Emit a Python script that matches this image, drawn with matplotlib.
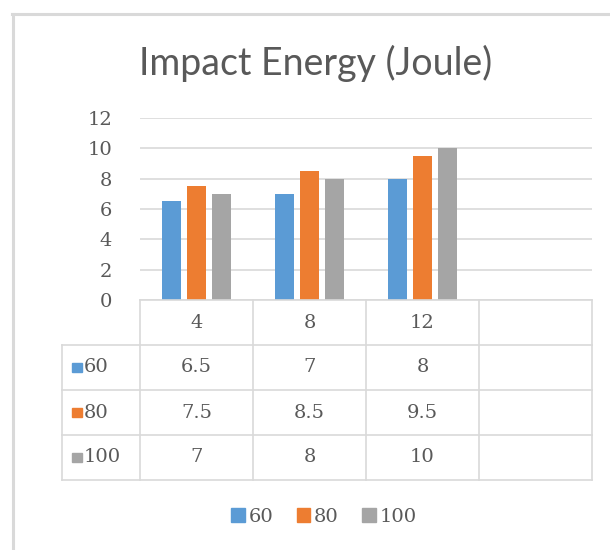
import numpy as np
import matplotlib.pyplot as plt
from matplotlib.patches import Rectangle

# data
categories = ["4", "8", "12", ""]
series_names = ["60", "80", "100"]
values_60 = [6.5, 7, 8]
values_80 = [7.5, 8.5, 9.5]
values_100 = [7, 8, 10]
yticks = [0, 2, 4, 6, 8, 10, 12]

colors = ["#5B9BD5", "#ED7D31", "#A5A5A5"]
text_col = "#595959"
grid_col = "#D9D9D9"
num_font = "DejaVu Serif"
num_size = 14

W, H = 610, 550
fig = plt.figure(figsize=(W / 100, H / 100), dpi=100)

def fx(px):
    return px / W

def fy(py):
    return 1 - py / H

# chart frame (left and top edges)
fig.add_artist(plt.Line2D([fx(13), fx(13)], [fy(14), 0], color=grid_col, lw=2.2))
fig.add_artist(plt.Line2D([fx(12), 1], [fy(14), fy(14)], color=grid_col, lw=2.2))

fig.text(fx(316), fy(63), "Impact Energy (Joule)", ha="center", va="center",
         fontsize=27, color=text_col, family="Lato")

# bar chart
x_left, x_right = 140, 592
ax = fig.add_axes([fx(x_left), fy(300), fx(x_right) - fx(x_left), fy(118) - fy(300)])
n_cat = len(categories)
ax.set_xlim(-0.5, n_cat - 0.5)
ax.set_ylim(0, 12)
x = np.arange(3)
width = 0.168
offsets = [-0.222, 0, 0.222]
for vals, off, c in zip([values_60, values_80, values_100], offsets, colors):
    ax.bar(x + off, vals, width=width, color=c, zorder=3)
ax.set_yticks(yticks)
ax.set_yticklabels([str(t) for t in yticks], fontsize=num_size, color=text_col, family=num_font)
ax.tick_params(axis="y", length=0, pad=20)
ax.set_xticks([])
ax.grid(axis="y", color=grid_col, lw=1.2, zorder=0)
for s in ax.spines.values():
    s.set_visible(False)

# data table below the plot
tab_left = 62
px_per_unit = (x_right - x_left) / n_cat
lab_w = (x_left - tab_left) / px_per_unit
tax = fig.add_axes([fx(tab_left), fy(480), fx(x_right) - fx(tab_left), fy(300) - fy(480)])
tax.set_xlim(-0.5 - lab_w, n_cat - 0.5)
tax.set_ylim(0, 4)
tax.axis("off")

lk = dict(color=grid_col, lw=1.2, clip_on=False)
tax.plot([-0.5, n_cat - 0.5], [4, 4], **lk)
for yy in [3, 2, 1, 0]:
    tax.plot([-0.5 - lab_w, n_cat - 0.5], [yy, yy], **lk)
tax.plot([-0.5 - lab_w, -0.5 - lab_w], [0, 3], **lk)
for xx in np.arange(n_cat + 1) - 0.5:
    tax.plot([xx, xx], [0, 4], **lk)

for i, cat in enumerate(categories):
    tax.text(i, 3.5, cat, ha="center", va="center", fontsize=num_size,
             color=text_col, family=num_font)

all_vals = [values_60, values_80, values_100]
for r, (name, vals, c) in enumerate(zip(series_names, all_vals, colors)):
    yc = 2.5 - r
    key_x = -0.5 - lab_w + 10 / px_per_unit
    key_w = 9.5 / px_per_unit
    tax.add_patch(Rectangle((key_x, yc - 0.105), key_w, 0.21, color=c, clip_on=False))
    tax.text(key_x + key_w + 2 / px_per_unit, yc, name, ha="left", va="center",
             fontsize=num_size, color=text_col, family=num_font)
    for i, v in enumerate(vals):
        tax.text(i, yc, f"{v:g}", ha="center", va="center", fontsize=num_size,
                 color=text_col, family=num_font)

# legend
handles = [Rectangle((0, 0), 1, 1, color=c) for c in colors]
fig.legend(handles, series_names, loc="center", bbox_to_anchor=(fx(324), fy(517)),
           ncol=3, frameon=False, handlelength=0.7, handleheight=0.7,
           handletextpad=0.2, columnspacing=1.2,
           prop={"family": num_font, "size": num_size}, labelcolor=text_col)

fig.savefig("out.png", dpi=100)
